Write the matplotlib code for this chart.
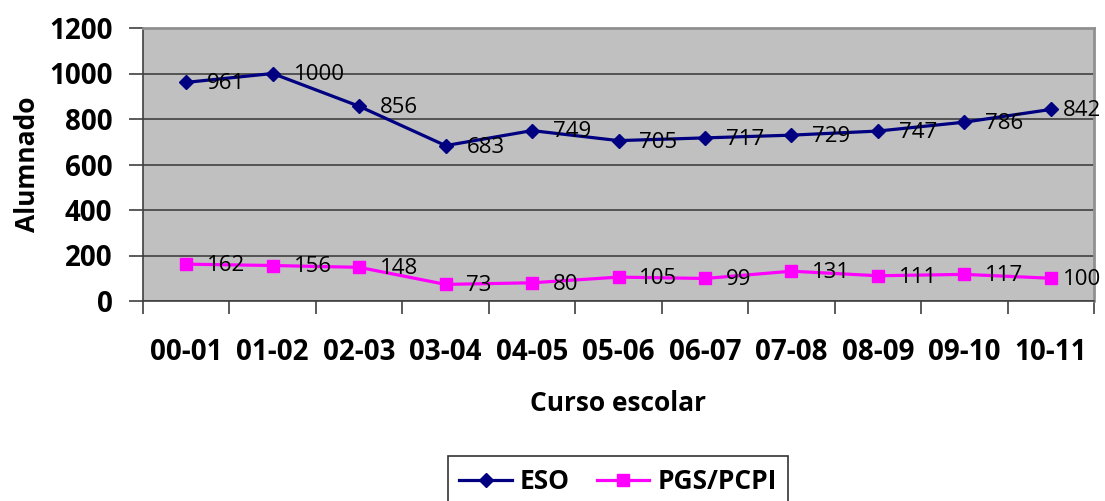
import numpy as np
import matplotlib
matplotlib.use("Agg")
import matplotlib.pyplot as plt

# ── Data ──────────────────────────────────────────────────────────────────────
cursos = ["00-01", "01-02", "02-03", "03-04", "04-05", "05-06",
          "06-07", "07-08", "08-09", "09-10", "10-11"]
eso = [961, 1000, 856, 683, 749, 705, 717, 729, 747, 786, 842]
pgs_pcpi = [162, 156, 148, 73, 80, 105, 99, 131, 111, 117, 100]

plt.rcParams["font.family"] = ["Open Sans", "DejaVu Sans"]

W, H = 1105, 501
fig = plt.figure(figsize=(W / 100, H / 100), dpi=100)
ax = fig.add_axes([143 / W, (H - 301) / H, (1094 - 143) / W, (301 - 28) / H])
ax.set_facecolor("#C0C0C0")

x = np.arange(len(cursos))
ax.plot(x, eso, color="#000080", lw=2.3, marker="D", ms=7, label="ESO", zorder=3)
ax.plot(x, pgs_pcpi, color="#FF00FF", lw=2.3, marker="s", ms=8.5,
        label="PGS/PCPI", zorder=3)

# data labels to the right of each point (last one squeezed in, like Excel)
for series in (eso, pgs_pcpi):
    for xi, v in zip(x, series):
        dx = 9 if xi == x[-1] else 15
        ax.annotate(str(v), (xi, v), xytext=(dx, -1), textcoords="offset points",
                    va="center", ha="left", fontsize=16, color="black", zorder=4)

ax.set_xlim(-0.5, len(cursos) - 0.5)
ax.set_ylim(0, 1200)
ax.set_yticks(np.arange(0, 1201, 200))
ax.yaxis.grid(True, color="#404040", lw=1.2)
ax.set_axisbelow(True)

ax.set_xticks(x)
ax.set_xticklabels(cursos, fontsize=20, fontweight="bold")
ax.set_xticks(np.arange(-0.5, len(cursos), 1), minor=True)
ax.tick_params(axis="x", which="major", length=0, pad=27)
ax.tick_params(axis="x", which="minor", length=9, width=1.2, color="#404040")
ax.tick_params(axis="y", length=10, width=1.2, color="#404040", labelsize=20, pad=12)
for lbl in ax.get_yticklabels():
    lbl.set_fontweight("bold")

for side in ("top", "right"):
    ax.spines[side].set_color("#909090")
    ax.spines[side].set_linewidth(2)
for side in ("left", "bottom"):
    ax.spines[side].set_color("#404040")
    ax.spines[side].set_linewidth(1.2)

ax.set_ylabel("Alumnado", fontsize=19, fontweight="bold", labelpad=6)
ax.set_xlabel("Curso escolar", fontsize=19, fontweight="bold", labelpad=16)

leg = fig.legend(loc="upper center", bbox_to_anchor=(618 / W, 1 - 443 / H),
                 ncol=2, frameon=True, fancybox=False, edgecolor="black",
                 prop={"size": 19, "weight": "bold"}, handlelength=2.0,
                 handletextpad=0.3, columnspacing=1.0, borderpad=0.45)
leg.get_frame().set_linewidth(1.2)

fig.savefig("out.png", dpi=100)
